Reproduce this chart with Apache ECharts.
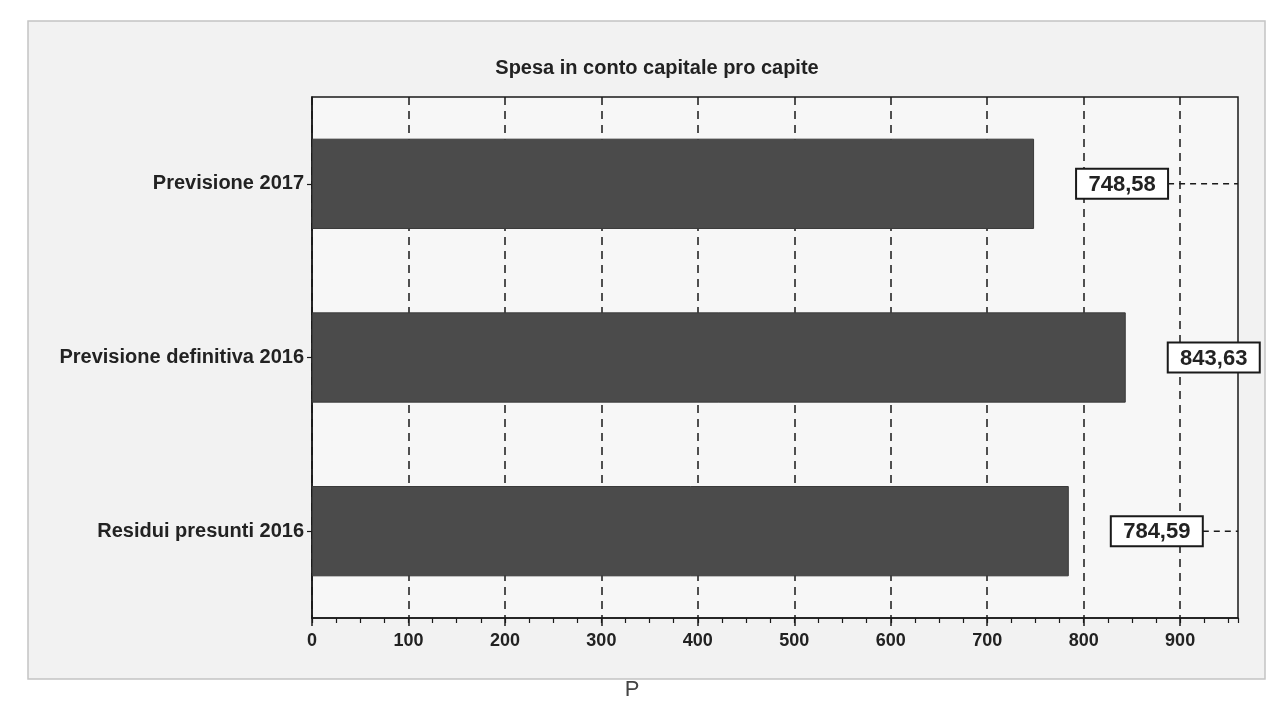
<!DOCTYPE html>
<html>
<head>
<meta charset="utf-8">
<script src="https://cdn.jsdelivr.net/npm/echarts@6/dist/echarts.min.js"></script>
<style>
html,body{margin:0;padding:0;background:#ffffff;}
#chart{width:1281px;height:710px;}
</style>
</head>
<body>
<div id="chart"></div>
<script>
// ---- data ----
const chartTitle = 'Spesa in conto capitale pro capite';
const footerText = 'P';
const categories = ['Residui presunti 2016', 'Previsione definitiva 2016', 'Previsione 2017'];
const values = [784.59, 843.63, 748.58];
const tickValues = [0, 100, 200, 300, 400, 500, 600, 700, 800, 900];
const axisMax = 960;

const fontFam = '"Liberation Sans", Arial, sans-serif';
const chart = echarts.init(document.getElementById('chart'), null, {renderer: 'canvas'});

function fmt(v) { return v.toFixed(2).replace('.', ','); }

const labelData = values.map((v, i) => [v, i]);

chart.setOption({
  backgroundColor: '#ffffff',
  animation: false,
  graphic: [
    {type: 'rect', z: -10, silent: true,
     shape: {x: 28, y: 21, width: 1237, height: 658},
     style: {fill: '#f2f2f2', stroke: '#c4c4c4', lineWidth: 1.5}},
    {type: 'text', x: 657, y: 68, silent: true,
     style: {text: chartTitle, fill: '#222', font: 'bold 20px ' + fontFam, textAlign: 'center', textVerticalAlign: 'middle'}},
    {type: 'text', x: 632, y: 690, silent: true,
     style: {text: footerText, fill: '#444', font: '22px ' + fontFam, textAlign: 'center', textVerticalAlign: 'middle'}}
  ],
  grid: {left: 312, right: 43, top: 97, bottom: 92, show: true, backgroundColor: '#f7f7f7', borderColor: '#1a1a1a', borderWidth: 1.5, containLabel: false},
  xAxis: [
    {type: 'value', position: 'bottom', min: 0, max: axisMax, interval: 100,
     axisLine: {show: true, onZero: false, lineStyle: {color: '#1a1a1a', width: 1.5}},
     axisTick: {show: true, length: 8, customValues: tickValues, lineStyle: {color: '#1a1a1a', width: 1.5}},
     axisLabel: {show: true, customValues: tickValues, color: '#222', fontFamily: fontFam, fontWeight: 'bold', fontSize: 18, margin: 14},
     splitLine: {show: true, lineStyle: {color: '#1a1a1a', width: 1.5, type: [8, 6]}}},
    {type: 'value', position: 'bottom', min: 0, max: axisMax, interval: 25,
     axisLine: {show: false},
     axisTick: {show: true, length: 5, lineStyle: {color: '#1a1a1a', width: 1.2}},
     axisLabel: {show: false},
     splitLine: {show: false}}
  ],
  yAxis: {
    type: 'category', data: categories,
    axisLine: {show: true, lineStyle: {color: '#1a1a1a', width: 1.5}},
    axisTick: {show: true, alignWithLabel: true, length: 5, lineStyle: {color: '#1a1a1a', width: 1.2}},
    axisLabel: {color: '#222', fontFamily: fontFam, fontWeight: 'bold', fontSize: 20, margin: 8},
    splitLine: {show: false}
  },
  series: [
    {type: 'bar', xAxisIndex: 0, data: values, barCategoryGap: '48%',
     itemStyle: {color: '#4b4b4b', borderColor: '#3a3a3a', borderWidth: 1}},
    {type: 'custom', xAxisIndex: 0, data: labelData, clip: false, z: 5,
     renderItem: function (params, api) {
       const pt = api.coord([api.value(0), api.value(1)]);
       const cs = params.coordSys;
       const gridRight = cs.x + cs.width;
       const w = 92, h = 30;
       const left = pt[0] + 42;
       const children = [];
       if (left + w < gridRight) {
         children.push({type: 'line', shape: {x1: left + w, y1: pt[1], x2: gridRight, y2: pt[1]},
           style: {stroke: '#1a1a1a', lineWidth: 1.5, lineDash: [6, 5]}});
       }
       children.push({type: 'rect', shape: {x: left, y: pt[1] - h / 2, width: w, height: h},
         style: {fill: '#ffffff', stroke: '#1a1a1a', lineWidth: 2}});
       children.push({type: 'text', x: left + w / 2, y: pt[1] + 1,
         style: {text: fmt(api.value(0)), fill: '#222', font: 'bold 22px ' + fontFam, textAlign: 'center', textVerticalAlign: 'middle'}});
       return {type: 'group', children: children};
     }}
  ]
});
</script>
</body>
</html>
